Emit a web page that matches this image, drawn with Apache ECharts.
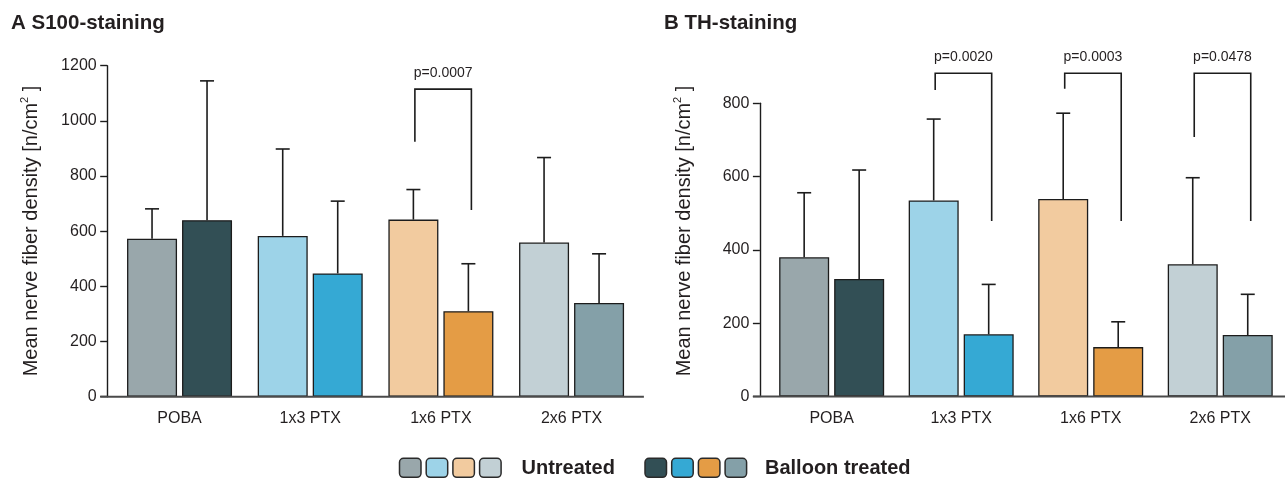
<!DOCTYPE html>
<html><head><meta charset="utf-8">
<script src="https://cdn.jsdelivr.net/npm/echarts@6/dist/echarts.min.js"></script>
<style>html,body{margin:0;padding:0;background:#fff}#c{width:1285px;height:479px}</style>
</head><body><div id="c"></div>
<script>
// ---------- data ----------
const categories = ['POBA', '1x3 PTX', '1x6 PTX', '2x6 PTX'];
const legendNames = ['Untreated', 'Balloon treated'];
const untreatedColors = ['#99a7ab', '#9dd3e8', '#f2cb9f', '#c2d0d5'];
const balloonColors   = ['#324f55', '#35a9d4', '#e49c45', '#84a0a8'];

const s100Ticks = [0, 200, 400, 600, 800, 1000, 1200];
const s100Untreated   = [573, 583, 642, 559];
const s100UntreatedSD = [108, 315, 109, 308];
const s100Balloon     = [640, 447, 310, 340];
const s100BalloonSD   = [505, 262, 172, 178];
// [category index, left leg end, right leg end, bracket top]
const s100Brackets = [[2, 924, 677, 1115]];
const s100BracketLabels = ['p=0.0007'];

const thTicks = [0, 200, 400, 600, 800];
const thUntreated   = [380, 535, 539, 361];
const thUntreatedSD = [176, 222, 234, 236];
const thBalloon     = [321, 170, 135, 168];
const thBalloonSD   = [297, 136, 69, 111];
const thBrackets = [[1, 836, 479, 882], [2, 840, 479, 882], [3, 708, 479, 882]];
const thBracketLabels = ['p=0.0020', 'p=0.0003', 'p=0.0478'];

// ---------- layout / style ----------
const FONT = '"Liberation Sans", Arial, Helvetica, sans-serif';
const TXT = '#231f20';
const LINE = '#1c1c1c';
const BAR_W = 50, BAR_GAP_PX = 5;
const OFF = (BAR_W + BAR_GAP_PX) / 2;

const panels = [
  { title: 'A S100-staining', titleLeft: 11, ticks: s100Ticks,
    u: s100Untreated, uSD: s100UntreatedSD, b: s100Balloon, bSD: s100BalloonSD,
    br: s100Brackets, brL: s100BracketLabels,
    grid: { left: 114.2, top: 65.7, width: 522.7, height: 331 }, ylabelX: 30.5 },
  { title: 'B TH-staining', titleLeft: 664, ticks: thTicks,
    u: thUntreated, uSD: thUntreatedSD, b: thBalloon, bSD: thBalloonSD,
    br: thBrackets, brL: thBracketLabels,
    grid: { left: 766.9, top: 103.3, width: 522.7, height: 293.3 }, ylabelX: 683.2 }
];

const chart = echarts.init(document.getElementById('c'), null, { renderer: 'canvas' });

function errorSeries(idx, means, sds, dir) {
  return {
    type: 'custom', xAxisIndex: idx, yAxisIndex: idx, z: 5, silent: true,
    data: means.map((m, i) => [i, m, m + sds[i]]),
    renderItem: function (params, api) {
      const p0 = api.coord([api.value(0), api.value(1)]);
      const p1 = api.coord([api.value(0), api.value(2)]);
      const x = p0[0] + dir * OFF;
      const st = { stroke: LINE, lineWidth: 1.6 };
      return { type: 'group', children: [
        { type: 'line', shape: { x1: x, y1: p0[1], x2: x, y2: p1[1] }, style: st },
        { type: 'line', shape: { x1: x - 7, y1: p1[1], x2: x + 7, y2: p1[1] }, style: st }
      ] };
    }
  };
}

function bracketSeries(idx, brackets, labels) {
  return {
    type: 'custom', xAxisIndex: idx, yAxisIndex: idx, z: 6, silent: true, clip: false,
    data: brackets,
    renderItem: function (params, api) {
      const c = api.value(0);
      const pl = api.coord([c, api.value(1)]);
      const pr = api.coord([c, api.value(2)]);
      const pt = api.coord([c, api.value(3)]);
      const xl = pl[0] - OFF + 1.5, xr = pl[0] + OFF + 3;
      return { type: 'group', children: [
        { type: 'polyline', shape: { points: [[xl, pl[1]], [xl, pt[1]], [xr, pt[1]], [xr, pr[1]]] },
          style: { stroke: LINE, lineWidth: 1.6, fill: null } },
        { type: 'text', x: (xl + xr) / 2, y: pt[1] - 16,
          style: { text: labels[params.dataIndex], align: 'center', verticalAlign: 'middle',
                   fontSize: 14, fontFamily: FONT, fill: TXT } }
      ] };
    }
  };
}

const grids = [], xAxes = [], yAxes = [], series = [], titles = [], graphics = [];
panels.forEach((p, k) => {
  grids.push(Object.assign({}, p.grid));
  titles.push({ text: p.title, left: p.titleLeft, top: 13, padding: 0,
    textStyle: { fontSize: 20.5, fontWeight: 'bold', color: TXT, fontFamily: FONT } });
  xAxes.push({ type: 'category', gridIndex: k, data: categories,
    axisLine: { show: false }, axisTick: { show: false },
    axisLabel: { fontSize: 16, color: TXT, fontFamily: FONT, margin: 14 } });
  yAxes.push({ type: 'value', gridIndex: k, min: p.ticks[0], max: p.ticks[p.ticks.length - 1],
    interval: p.ticks[1] - p.ticks[0], offset: 7,
    axisLine: { show: true, lineStyle: { color: LINE, width: 1.4 } },
    axisTick: { show: true, length: 7, lineStyle: { color: LINE, width: 1.4 } },
    axisLabel: { fontSize: 16, color: TXT, fontFamily: FONT, margin: 10.5,
                 formatter: v => String(v) },
    splitLine: { show: false } });
  series.push({ type: 'bar', name: legendNames[0], xAxisIndex: k, yAxisIndex: k,
    barWidth: BAR_W, barGap: (BAR_GAP_PX / BAR_W * 100) + '%',
    itemStyle: { borderColor: LINE, borderWidth: 1.3 },
    data: p.u.map((v, i) => ({ value: v, itemStyle: { color: untreatedColors[i] } })) });
  series.push({ type: 'bar', name: legendNames[1], xAxisIndex: k, yAxisIndex: k,
    barWidth: BAR_W, barGap: (BAR_GAP_PX / BAR_W * 100) + '%',
    itemStyle: { borderColor: LINE, borderWidth: 1.3 },
    data: p.b.map((v, i) => ({ value: v, itemStyle: { color: balloonColors[i] } })) });
  series.push(errorSeries(k, p.u, p.uSD, -1));
  series.push(errorSeries(k, p.b, p.bSD, 1));
  series.push(bracketSeries(k, p.br, p.brL));

  const yb = p.grid.top + p.grid.height;
  graphics.push({ type: 'line', z: 10,
    shape: { x1: p.grid.left - 14, y1: yb, x2: p.grid.left + p.grid.width + 7, y2: yb },
    style: { stroke: '#4a4a4a', lineWidth: 2 } });
  graphics.push({ type: 'text', x: p.ylabelX, y: 231, rotation: Math.PI / 2,
    style: { text: '{m|Mean nerve fiber density [n/cm}{s|2}{m| ]}', align: 'center', verticalAlign: 'middle',
      fill: TXT, fontFamily: FONT,
      rich: { m: { fontSize: 20, lineHeight: 22, verticalAlign: 'bottom', fontFamily: FONT, fill: TXT },
              s: { fontSize: 11, lineHeight: 12, verticalAlign: 'top', fontFamily: FONT, fill: TXT } } } });
});

// legend (4 swatches per group + bold label)
const legendGroups = [
  { colors: untreatedColors, x0: 399.5, textX: 521.5, name: legendNames[0] },
  { colors: balloonColors, x0: 645, textX: 765, name: legendNames[1] }
];
legendGroups.forEach(g => {
  g.colors.forEach((c, i) => {
    graphics.push({ type: 'rect', shape: { x: g.x0 + i * 26.7, y: 458.3, width: 21.5, height: 19, r: 4 },
      style: { fill: c, stroke: '#2a2a2a', lineWidth: 1.5 } });
  });
  graphics.push({ type: 'text', x: g.textX, y: 468,
    style: { text: g.name, fontSize: 20, fontWeight: 'bold', fontFamily: FONT, fill: TXT,
             align: 'left', verticalAlign: 'middle' } });
});

chart.setOption({
  animation: false,
  backgroundColor: '#ffffff',
  title: titles,
  grid: grids,
  xAxis: xAxes,
  yAxis: yAxes,
  series: series,
  graphic: graphics
});
</script>
</body></html>
